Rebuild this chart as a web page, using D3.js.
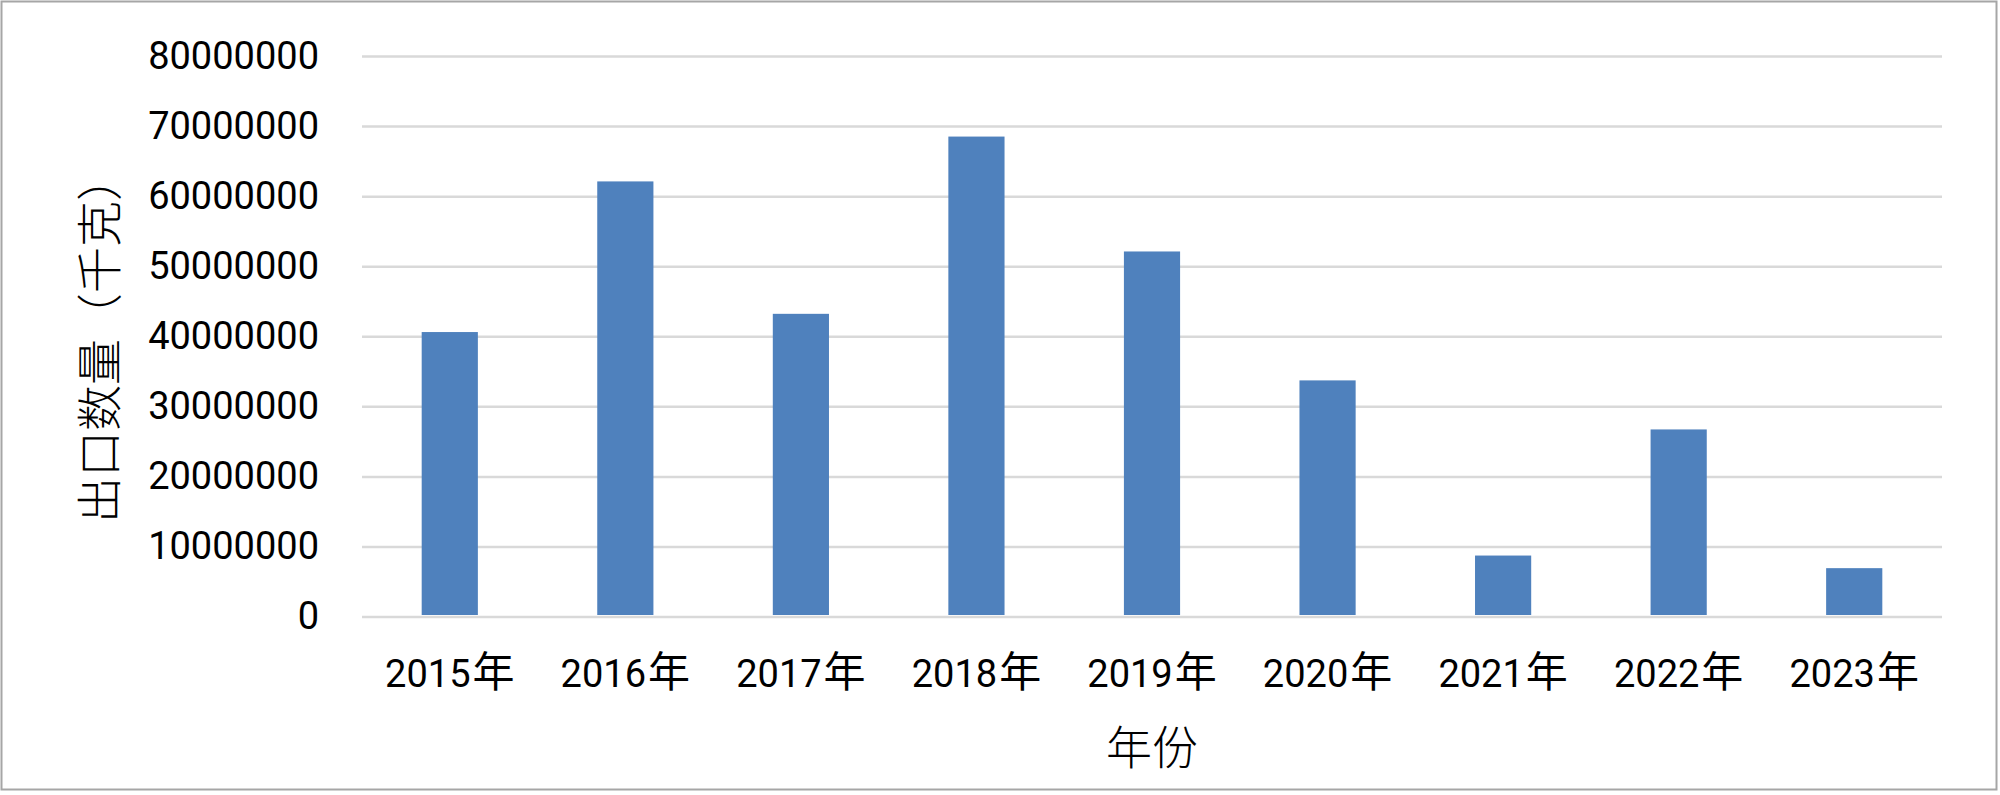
<!DOCTYPE html>
<html>
<head>
<meta charset="utf-8">
<script src="https://cdn.jsdelivr.net/npm/d3@7"></script>
<style>
  html, body { margin: 0; padding: 0; background: #fff; }
  svg { display: block; }
</style>
</head>
<body>
<svg id="chart" width="2000" height="795"></svg>
<script>
const categories = ["2015年", "2016年", "2017年", "2018年", "2019年", "2020年", "2021年", "2022年", "2023年"];
const values = [40600000, 62100000, 43200000, 68500000, 52100000, 33700000, 8700000, 26700000, 6900000];
const yTicks = [0, 10000000, 20000000, 30000000, 40000000, 50000000, 60000000, 70000000, 80000000];
const yTitle = "出口数量（千克）";
const xTitle = "年份";

const svg = d3.select("#chart");
const W = 2000, H = 795;
const plot = { left: 362, right: 1942, top: 56, bottom: 616.5 };

svg.append("rect").attr("x", 0).attr("y", 0).attr("width", W).attr("height", H).attr("fill", "#fff");
svg.append("rect").attr("x", 1.5).attr("y", 1.5).attr("width", 1995).attr("height", 788)
  .attr("fill", "none").attr("stroke", "#A6A6A6").attr("stroke-width", 2);

const x = d3.scaleBand().domain(categories).range([plot.left, plot.right])
  .paddingInner(0.68).paddingOuter(0.34);
const y = d3.scaleLinear().domain([0, 80000000]).range([plot.bottom, plot.top]);

// gridlines + y tick labels
const yAxis = d3.axisLeft(y).tickValues(yTicks).tickSize(-(plot.right - plot.left)).tickPadding(43)
  .tickFormat(d3.format("d"));
const gy = svg.append("g").attr("transform", `translate(${plot.left},0)`).call(yAxis);
gy.select(".domain").remove();
gy.selectAll(".tick line").attr("stroke", "#D9D9D9").attr("stroke-width", 2.5);
gy.selectAll(".tick text").attr("fill", "#000").style("font-family", "Roboto, sans-serif")
  .style("font-size", "38px");

// bars
svg.append("g").selectAll("rect").data(values).join("rect")
  .attr("x", (d, i) => x(categories[i]))
  .attr("width", x.bandwidth())
  .attr("y", d => y(d))
  .attr("height", d => y(0) - y(d) - 1.5)
  .attr("fill", "#4F81BD");

// x axis labels
const xAxis = d3.axisBottom(x).tickSize(0).tickPadding(44);
const gx = svg.append("g").attr("transform", `translate(0,${plot.bottom})`).call(xAxis);
gx.select(".domain").remove();
gx.selectAll(".tick text").attr("fill", "#000")
  .style("font-family", "Roboto, sans-serif").style("font-size", "38px")
  .each(function(d) {
    const t = d3.select(this);
    const num = d.replace("年", "");
    t.text(null);
    t.append("tspan").text(num);
    t.append("tspan").attr("dx", 2).style("font-family", "'Noto Sans CJK SC', sans-serif")
      .style("font-size", "42px").text("年");
  });

// titles
svg.append("text").attr("x", (plot.left + plot.right) / 2).attr("y", 764)
  .attr("text-anchor", "middle").attr("fill", "#000")
  .style("font-family", "'Noto Sans CJK SC', sans-serif").style("font-size", "46px").style("font-weight", 300)
  .text(xTitle);

svg.append("text").attr("transform", `translate(116,${339}) rotate(-90)`)
  .attr("text-anchor", "middle").attr("fill", "#000")
  .style("font-family", "'Noto Sans CJK SC', sans-serif").style("font-size", "46px").style("font-weight", 300)
  .text(yTitle);
</script>
</body>
</html>
